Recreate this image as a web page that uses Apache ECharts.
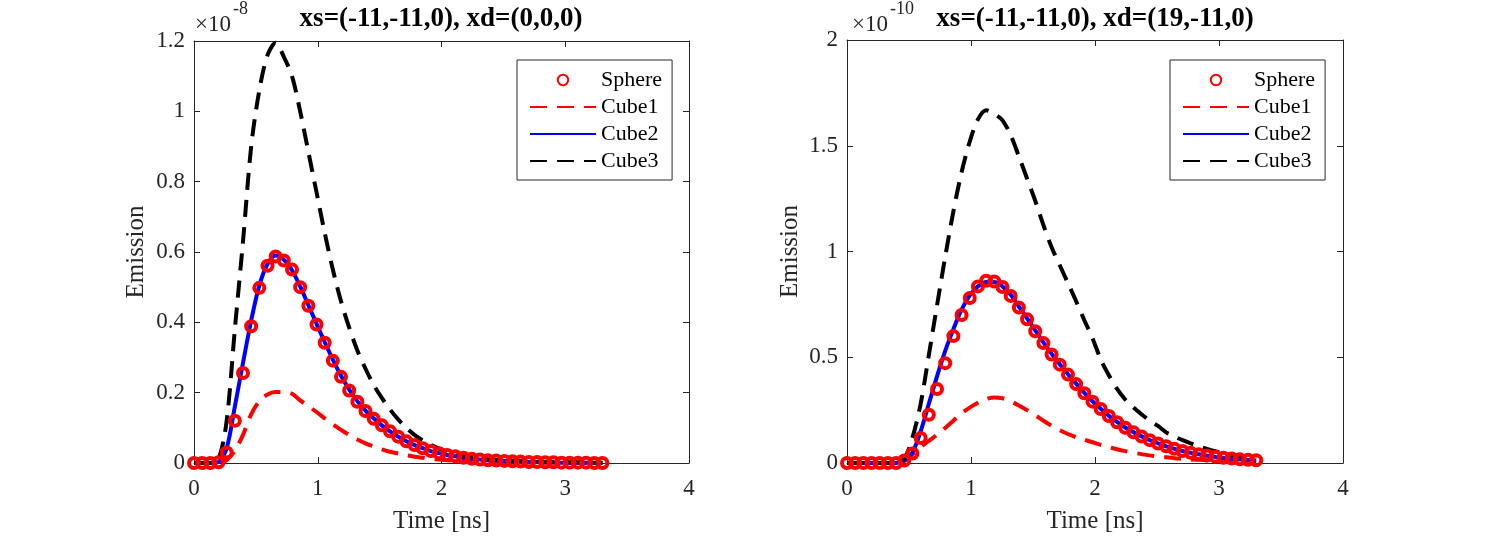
<!DOCTYPE html>
<html>
<head>
<meta charset="utf-8">
<title>Emission</title>
<script src="https://cdn.jsdelivr.net/npm/echarts@6/dist/echarts.min.js"></script>
<style>
    html, body { margin: 0; padding: 0; background: #fff; }
    #main { width: 1486px; height: 536px; }
</style>
</head>
<body>
<div id="main"></div>
<script>
// time samples [ns]
var time = [0, 0.066, 0.132, 0.198, 0.264, 0.33, 0.396, 0.462, 0.528, 0.594,
    0.66, 0.726, 0.792, 0.858, 0.924, 0.99, 1.056, 1.122, 1.188, 1.254,
    1.32, 1.386, 1.452, 1.518, 1.584, 1.65, 1.716, 1.782, 1.848, 1.914,
    1.98, 2.046, 2.112, 2.178, 2.244, 2.31, 2.376, 2.442, 2.508, 2.574,
    2.64, 2.706, 2.772, 2.838, 2.904, 2.97, 3.036, 3.102, 3.168, 3.234, 3.3];

// left panel, xs=(-11,-11,0), xd=(0,0,0), values x 1e-8
var sphereA = [0, 0, 0, 0.002, 0.03, 0.12, 0.256, 0.389, 0.498, 0.561,
    0.587, 0.576, 0.55, 0.5, 0.447, 0.394, 0.342, 0.291, 0.245, 0.206,
    0.174, 0.148, 0.126, 0.107, 0.09, 0.075, 0.062, 0.051, 0.042, 0.034,
    0.028, 0.023, 0.019, 0.015, 0.012, 0.01, 0.008, 0.007, 0.006, 0.005,
    0.004, 0.003, 0.003, 0.002, 0.002, 0.001, 0.001, 0.001, 0.001, 0, 0];
var cube1A = [0, 0, 0, 0.001, 0.008, 0.035, 0.08, 0.138, 0.176, 0.195,
    0.202, 0.202, 0.197, 0.178, 0.162, 0.145, 0.127, 0.11, 0.094, 0.08,
    0.067, 0.056, 0.047, 0.039, 0.032, 0.027, 0.022, 0.018, 0.015, 0.012,
    0.01, 0.008, 0.007, 0.006, 0.005, 0.004, 0.003, 0.003, 0.002, 0.002,
    0.002, 0.001, 0.001, 0.001, 0.001, 0.001, 0, 0, 0, 0, 0];
var cube2A = [0, 0, 0, 0.003, 0.042, 0.16, 0.285, 0.405, 0.505, 0.566,
    0.59, 0.578, 0.548, 0.502, 0.449, 0.396, 0.344, 0.294, 0.248, 0.209,
    0.176, 0.149, 0.127, 0.107, 0.09, 0.075, 0.062, 0.051, 0.042, 0.034,
    0.028, 0.023, 0.019, 0.015, 0.012, 0.01, 0.008, 0.007, 0.006, 0.005,
    0.004, 0.003, 0.003, 0.002, 0.002, 0.001, 0.001, 0.001, 0.001, 0, 0];
var cube3A = [0, 0, 0, 0.01, 0.12, 0.38, 0.63, 0.9, 1.06, 1.16,
    1.195, 1.155, 1.1, 1.0, 0.885, 0.77, 0.655, 0.55, 0.46, 0.385,
    0.32, 0.268, 0.222, 0.185, 0.152, 0.124, 0.1, 0.08, 0.064, 0.051,
    0.041, 0.033, 0.026, 0.021, 0.017, 0.014, 0.011, 0.009, 0.008, 0.007,
    0.006, 0.005, 0.004, 0.003, 0.003, 0.002, 0.002, 0.002, 0.001, 0.001, 0.001];

// right panel, xs=(-11,-11,0), xd=(19,-11,0), values x 1e-10
var sphereB = [0, 0, 0, 0, 0, 0, 0, 0.012, 0.045, 0.118,
    0.228, 0.35, 0.472, 0.6, 0.7, 0.78, 0.835, 0.862, 0.858, 0.832,
    0.79, 0.735, 0.68, 0.623, 0.567, 0.513, 0.465, 0.418, 0.373, 0.33,
    0.29, 0.255, 0.222, 0.193, 0.167, 0.145, 0.125, 0.108, 0.092, 0.079,
    0.067, 0.057, 0.048, 0.041, 0.035, 0.03, 0.025, 0.021, 0.018, 0.015, 0.013];
var cube1B = [0, 0, 0, 0, 0, 0, 0.002, 0.01, 0.04, 0.075,
    0.105, 0.133, 0.166, 0.2, 0.235, 0.262, 0.285, 0.302, 0.31, 0.306,
    0.292, 0.272, 0.25, 0.226, 0.2, 0.176, 0.155, 0.137, 0.122, 0.11,
    0.098, 0.086, 0.075, 0.065, 0.056, 0.049, 0.042, 0.036, 0.031, 0.027,
    0.023, 0.02, 0.017, 0.015, 0.013, 0.011, 0.009, 0.008, 0.007, 0.006, 0.005];
var cube2B = [0, 0, 0, 0, 0, 0, 0, 0.012, 0.05, 0.15,
    0.28, 0.41, 0.53, 0.633, 0.725, 0.793, 0.835, 0.856, 0.856, 0.835,
    0.795, 0.74, 0.684, 0.627, 0.57, 0.516, 0.467, 0.42, 0.375, 0.332,
    0.292, 0.256, 0.223, 0.194, 0.168, 0.146, 0.126, 0.108, 0.093, 0.079,
    0.067, 0.057, 0.048, 0.041, 0.034, 0.029, 0.024, 0.02, 0.017, 0.014, 0.012];
var cube3B = [0, 0, 0, 0, 0, 0, 0, 0.02, 0.12, 0.28,
    0.51, 0.745, 0.975, 1.19, 1.375, 1.52, 1.625, 1.668, 1.65, 1.62,
    1.55, 1.45, 1.345, 1.24, 1.125, 1.02, 0.935, 0.85, 0.765, 0.675,
    0.59, 0.49, 0.415, 0.35, 0.3, 0.262, 0.23, 0.2, 0.175, 0.145,
    0.125, 0.108, 0.093, 0.079, 0.067, 0.056, 0.047, 0.039, 0.031, 0.025, 0.02];

var names = ['Sphere', 'Cube1', 'Cube2', 'Cube3'];
var titles = ['xs=(-11,-11,0), xd=(0,0,0)', 'xs=(-11,-11,0), xd=(19,-11,0)'];
var exponents = ['-8', '-10'];
var xRange = { min: 0, max: 4, interval: 1 };
var yRanges = [{ min: 0, max: 1.2, interval: 0.2 }, { min: 0, max: 2, interval: 0.5 }];

var FONT = 'Liberation Serif';
var AXIS_COLOR = '#262626';

function pairs(v) {
    var out = [];
    for (var i = 0; i < time.length; i++) {
        out.push([time[i], v[i]]);
    }
    return out;
}

function axisBase(pos, showLabel, range) {
    return {
        type: 'value',
        position: pos,
        min: range.min,
        max: range.max,
        interval: range.interval,
        axisLine: { show: true, onZero: false, lineStyle: { color: AXIS_COLOR, width: 1 } },
        axisTick: { show: true, inside: true, length: 6, lineStyle: { color: AXIS_COLOR, width: 1 } },
        axisLabel: {
            show: showLabel,
            fontFamily: FONT,
            fontSize: 23,
            color: AXIS_COLOR,
            margin: pos === 'bottom' ? 14 : 9
        },
        splitLine: { show: false }
    };
}

// fixed plot boxes, no automatic shrinking for labels
var grids = [
    { left: 194, top: 41, width: 495, height: 422, containLabel: false, outerBoundsMode: 'none' },
    { left: 847, top: 40, width: 496, height: 423, containLabel: false, outerBoundsMode: 'none' }
];

var xAxes = [], yAxes = [], series = [], graphics = [], legends = [];
var panels = [
    [sphereA, cube1A, cube2A, cube3A],
    [sphereB, cube1B, cube2B, cube3B]
];
var centers = [441, 1095];
var expX = [195, 852];

// legend entries: only the Sphere entry keeps its marker
var legendData = [
    { name: 'Sphere' },
    { name: 'Cube1', itemStyle: { opacity: 0 } },
    { name: 'Cube2', itemStyle: { opacity: 0 } },
    { name: 'Cube3', itemStyle: { opacity: 0 } }
];

for (var g = 0; g < 2; g++) {
    var xb = axisBase('bottom', true, xRange);
    xb.gridIndex = g;
    xb.name = 'Time [ns]';
    xb.nameLocation = 'middle';
    xb.nameGap = 46;
    xb.nameTextStyle = { fontFamily: FONT, fontSize: 25, color: AXIS_COLOR };
    var xt = axisBase('top', false, xRange);
    xt.gridIndex = g;
    xAxes.push(xb, xt);

    var yl = axisBase('left', true, yRanges[g]);
    yl.gridIndex = g;
    yl.name = 'Emission';
    yl.nameLocation = 'middle';
    yl.nameGap = g === 0 ? 45 : 44;
    yl.nameTextStyle = { fontFamily: FONT, fontSize: 25, color: AXIS_COLOR };
    var yr = axisBase('right', false, yRanges[g]);
    yr.gridIndex = g;
    yAxes.push(yl, yr);

    var d = panels[g];
    var xi = g * 2, yi = g * 2;
    series.push({
        name: 'Sphere', type: 'line', xAxisIndex: xi, yAxisIndex: yi,
        data: pairs(d[0]),
        symbol: 'circle', symbolSize: 10, showSymbol: true, showAllSymbol: true,
        lineStyle: { width: 0 },
        itemStyle: { color: 'rgba(255,0,0,0)', borderColor: '#ff0000', borderWidth: 4 },
        clip: false
    });
    series.push({
        name: 'Cube1', type: 'line', xAxisIndex: xi, yAxisIndex: yi,
        data: pairs(d[1]), symbol: 'none', smooth: 0.3,
        lineStyle: { color: '#ff0000', width: 4, type: [17, 10] },
        itemStyle: { color: '#ff0000' }
    });
    series.push({
        name: 'Cube2', type: 'line', xAxisIndex: xi, yAxisIndex: yi,
        data: pairs(d[2]), symbol: 'none', smooth: 0.3,
        lineStyle: { color: '#0000ff', width: 4 },
        itemStyle: { color: '#0000ff' }
    });
    series.push({
        name: 'Cube3', type: 'line', xAxisIndex: xi, yAxisIndex: yi,
        data: pairs(d[3]), symbol: 'none', smooth: 0.3,
        lineStyle: { color: '#000000', width: 4, type: [17, 10] },
        itemStyle: { color: '#000000' }
    });

    legends.push({
        left: g === 0 ? 517 : 1170,
        top: 60,
        orient: 'vertical',
        data: legendData,
        selectedMode: false,
        backgroundColor: '#fff',
        borderColor: AXIS_COLOR,
        borderWidth: 1,
        borderRadius: 0,
        padding: [9, 10, 8, 12],
        itemWidth: 66,
        itemHeight: 13,
        itemGap: 5,
        textStyle: { fontFamily: FONT, fontSize: 22, color: '#000', lineHeight: 20 }
    });

    // title and axis exponent
    graphics.push({
        type: 'text', x: centers[g], y: 19, silent: true,
        style: { text: titles[g], fontFamily: FONT, fontSize: 27, fontWeight: 'bold',
            fill: '#000', align: 'center', verticalAlign: 'middle' }
    });
    graphics.push({
        type: 'text', x: expX[g], y: 25, silent: true,
        style: { text: '\u00d710', fontFamily: FONT, fontSize: 23, fill: AXIS_COLOR,
            align: 'left', verticalAlign: 'middle' }
    });
    graphics.push({
        type: 'text', x: expX[g] + 38, y: 9, silent: true,
        style: { text: exponents[g], fontFamily: FONT, fontSize: 18, fill: AXIS_COLOR,
            align: 'left', verticalAlign: 'middle' }
    });
}

var myChart = echarts.init(document.getElementById('main'));
myChart.setOption({
    animation: false,
    backgroundColor: '#fff',
    grid: grids,
    xAxis: xAxes,
    yAxis: yAxes,
    legend: legends,
    series: series,
    graphic: graphics
});
</script>
</body>
</html>
